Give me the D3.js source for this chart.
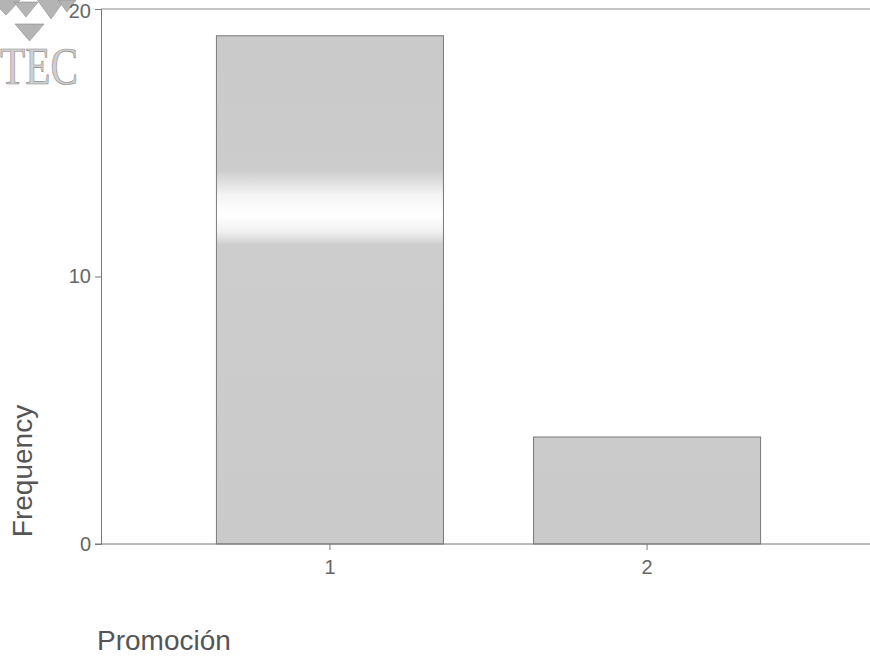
<!DOCTYPE html>
<html>
<head>
<meta charset="utf-8">
<script src="https://cdn.jsdelivr.net/npm/d3@7/dist/d3.min.js"></script>
<style>
  html, body { margin: 0; padding: 0; background: #fff; }
  svg { display: block; }
</style>
</head>
<body>
<svg id="chart" width="870" height="656"></svg>
<script>
const categories = ["1", "2"];
const frequencies = [19, 4];
const yTicks = [0, 10, 20];
const xTitle = "Promoción";
const yTitle = "Frequency";

const SANS = "'Liberation Sans', Arial, sans-serif";
const SERIF = "'Liberation Serif', 'Times New Roman', serif";

const svg = d3.select("#chart");
const W = 870, H = 656;
const mLeft = 101, mTop = 9, mBottom = 544, mRight = 876;

// defs: scan band gradient
const defs = svg.append("defs");
const grad = defs.append("linearGradient")
  .attr("id", "scan").attr("gradientUnits", "userSpaceOnUse")
  .attr("x1", 0).attr("y1", 0).attr("x2", 0).attr("y2", H);
[[0, "#c9c9c9"], [170 / H, "#cccccc"], [195 / H, "#f4f4f4"], [215 / H, "#ffffff"],
 [232 / H, "#f0f0f0"], [245 / H, "#cdcdcd"], [1, "#c9c9c9"]].forEach(([o, c]) =>
  grad.append("stop").attr("offset", o).attr("stop-color", c));

const x = d3.scaleBand().domain(categories).range([mLeft, mRight])
  .paddingInner(0.284).paddingOuter(0.364);
const y = d3.scaleLinear().domain([0, 20]).range([mBottom, mTop]);

// frame top line
svg.append("line").attr("x1", mLeft).attr("x2", W).attr("y1", mTop).attr("y2", mTop)
  .attr("stroke", "#8a8a8a").attr("stroke-width", 1);

// bars
svg.selectAll("rect.bar").data(categories).join("rect")
  .attr("class", "bar")
  .attr("x", d => x(d))
  .attr("y", (d, i) => y(frequencies[i]))
  .attr("width", x.bandwidth())
  .attr("height", (d, i) => y(0) - y(frequencies[i]))
  .attr("fill", "url(#scan)")
  .attr("stroke", "#7a7a7a").attr("stroke-width", 1);

// TEC logo (drawn before axes so the "20" label stays readable)
const logo = svg.append("g").attr("fill", "#b4b4b4").attr("stroke", "#8c8c8c").attr("stroke-width", 0.6);
const tris = [
  [[-10, -2], [22, -2], [6, 15]],
  [[14, 2], [38, 2], [26, 17]],
  [[36, -2], [66, -2], [51, 19]],
  [[58, 0], [76, 0], [67, 12]],
  [[15, 24], [44, 24], [29.5, 41]]
];
logo.selectAll("path").data(tris).join("path")
  .attr("d", d => d3.line()(d) + "Z");
svg.append("text").attr("x", 0).attr("y", 84)
  .style("font-family", SERIF)
  .attr("font-size", 52).attr("fill", "#d0d0d0")
  .attr("stroke", "#8c8c8c").attr("stroke-width", 0.7)
  .attr("textLength", 78).attr("lengthAdjust", "spacingAndGlyphs")
  .text("TEC");

// y axis
const yAxis = d3.axisLeft(y).tickValues(yTicks).tickSize(6).tickPadding(4).tickFormat(d3.format("d"));
const gy = svg.append("g").attr("transform", `translate(${mLeft},0)`).call(yAxis);
gy.select(".domain").attr("stroke", "#777");
gy.selectAll(".tick line").attr("stroke", "#777");
gy.selectAll(".tick text").attr("font-size", 20).attr("fill", "#666")
  .style("font-family", SANS);
gy.selectAll(".tick text").filter(d => d === 20).attr("dy", "0.4em");

// x axis
const xAxis = d3.axisBottom(x).tickSize(6).tickPadding(10);
const gx = svg.append("g").attr("transform", `translate(0,${mBottom})`).call(xAxis);
gx.select(".domain").attr("d", `M${mLeft - 6},0H${W}`).attr("stroke", "#777");
gx.selectAll(".tick line").attr("stroke", "#777");
gx.selectAll(".tick text").attr("font-size", 20).attr("fill", "#666")
  .style("font-family", SANS);

// axis titles
svg.append("text").attr("x", 97).attr("y", 650)
  .style("font-family", SANS)
  .attr("font-size", 28).attr("fill", "#555").text(xTitle);
svg.append("text")
  .attr("transform", "translate(32,471) rotate(-90)")
  .attr("text-anchor", "middle")
  .style("font-family", SANS)
  .attr("font-size", 28).attr("fill", "#555").text(yTitle);
</script>
</body>
</html>
